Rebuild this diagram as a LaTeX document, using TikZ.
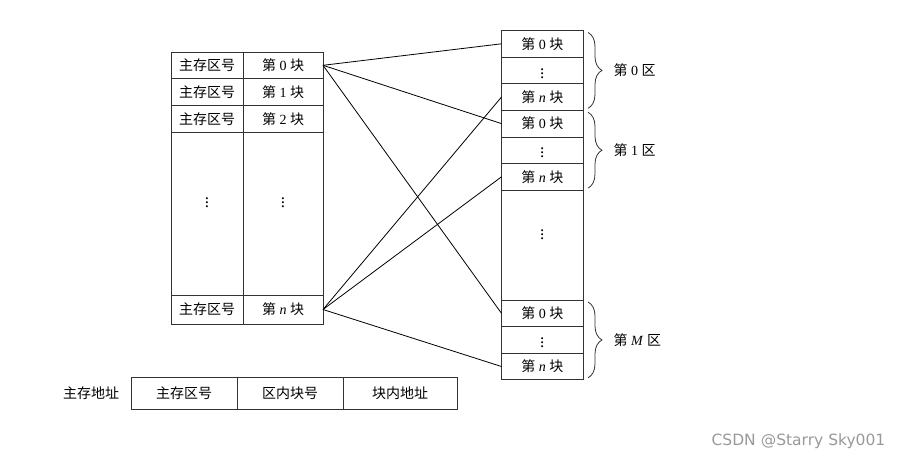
\documentclass[tikz,border=0pt]{standalone}
\usepackage{fontspec}
\setmainfont{Liberation Serif}
\newfontfamily\cjk{Noto Sans CJK SC}
\newfontfamily\wmfont{DejaVu Sans}
\usetikzlibrary{decorations.pathreplacing}
\newcommand{\kuai}[1]{{\cjk 第} #1 {\cjk 块}}
\newcommand{\qu}[1]{{\cjk 第} #1 {\cjk 区}}
\newcommand{\vd}{{\fontsize{17}{17}\selectfont$\vdots$}}
\begin{document}
\begin{tikzpicture}[x=1pt, y=-1pt, line width=0.8pt,
    every node/.style={font=\fontsize{14}{16}\selectfont},
    cell/.style={draw=black!80, inner sep=0pt, outer sep=0pt, minimum height=#1},
    cell/.default=26.6pt,
    zbrace/.style={draw=black!80, decorate, decoration={brace, amplitude=14pt}}]
    \useasboundingbox (0,0) rectangle (904,461);

    % Main memory blocks
    \foreach \r/\y in {0/65.3, 1/92, 2/118.7} {
        \node[cell, minimum width=72pt] (qa\r) at (207,\y) {\cjk 主存区号};
        \node[cell, minimum width=80pt] (kb\r) at (283,\y) {\kuai{\r}};
    }
    \node[cell=163pt, minimum width=72pt] (qagap) at (207,213.5) {\raisebox{28pt}{\vd}};
    \node[cell=163pt, minimum width=80pt] (kbgap) at (283,213.5) {\raisebox{28pt}{\vd}};
    \node[cell=29pt, minimum width=72pt] (qan) at (207,309.5) {\cjk 主存区号};
    \node[cell=29pt, minimum width=80pt] (kbn) at (283,309.5) {\kuai{\textit{n}}};

    % Cache zones
    \foreach \z/\top/\lab in {0/30.5/0, 1/110.3/1, M/300/\textit{M}} {
        \node[cell, minimum width=81.5pt, anchor=north] (z\z b0) at (542.25,\top) {\kuai{0}};
        \node[cell, minimum width=81.5pt, anchor=north] (z\z dots) at (z\z b0.south) {\vd};
        \node[cell, minimum width=81.5pt, anchor=north] (z\z bn) at (z\z dots.south) {\kuai{\textit{n}}};
        \draw[zbrace] ([xshift=5pt,yshift=-2pt]z\z b0.north east) -- ([xshift=5pt,yshift=2pt]z\z bn.south east)
            node[midway, right=22pt] (zl\z) {\qu{\lab}};
    }
    \node[cell=109.9pt, minimum width=81.5pt, anchor=north] (zgap) at (z1bn.south) {\raisebox{26pt}{\vd}};

    % Mapping lines
    \foreach \z in {0,1,M} {
        \draw (kb0.east) -- (z\z b0.west);
        \draw (kbn.east) -- (z\z bn.west);
    }

    % Address format
    \node (addr) at (91,393) {\cjk 主存地址};
    \node[cell=32pt, minimum width=106pt] (fq) at (184,393) {\cjk 主存区号};
    \node[cell=32pt, minimum width=106pt, anchor=west] (fk) at (fq.east) {\cjk 区内块号};
    \node[cell=32pt, minimum width=114pt, anchor=west] (fd) at (fk.east) {\cjk 块内地址};

    \node[text=black!40, font=\wmfont\fontsize{15.5}{17}\selectfont, anchor=east] (wm) at (889,441) {CSDN @Starry Sky001};
\end{tikzpicture}
\end{document}
